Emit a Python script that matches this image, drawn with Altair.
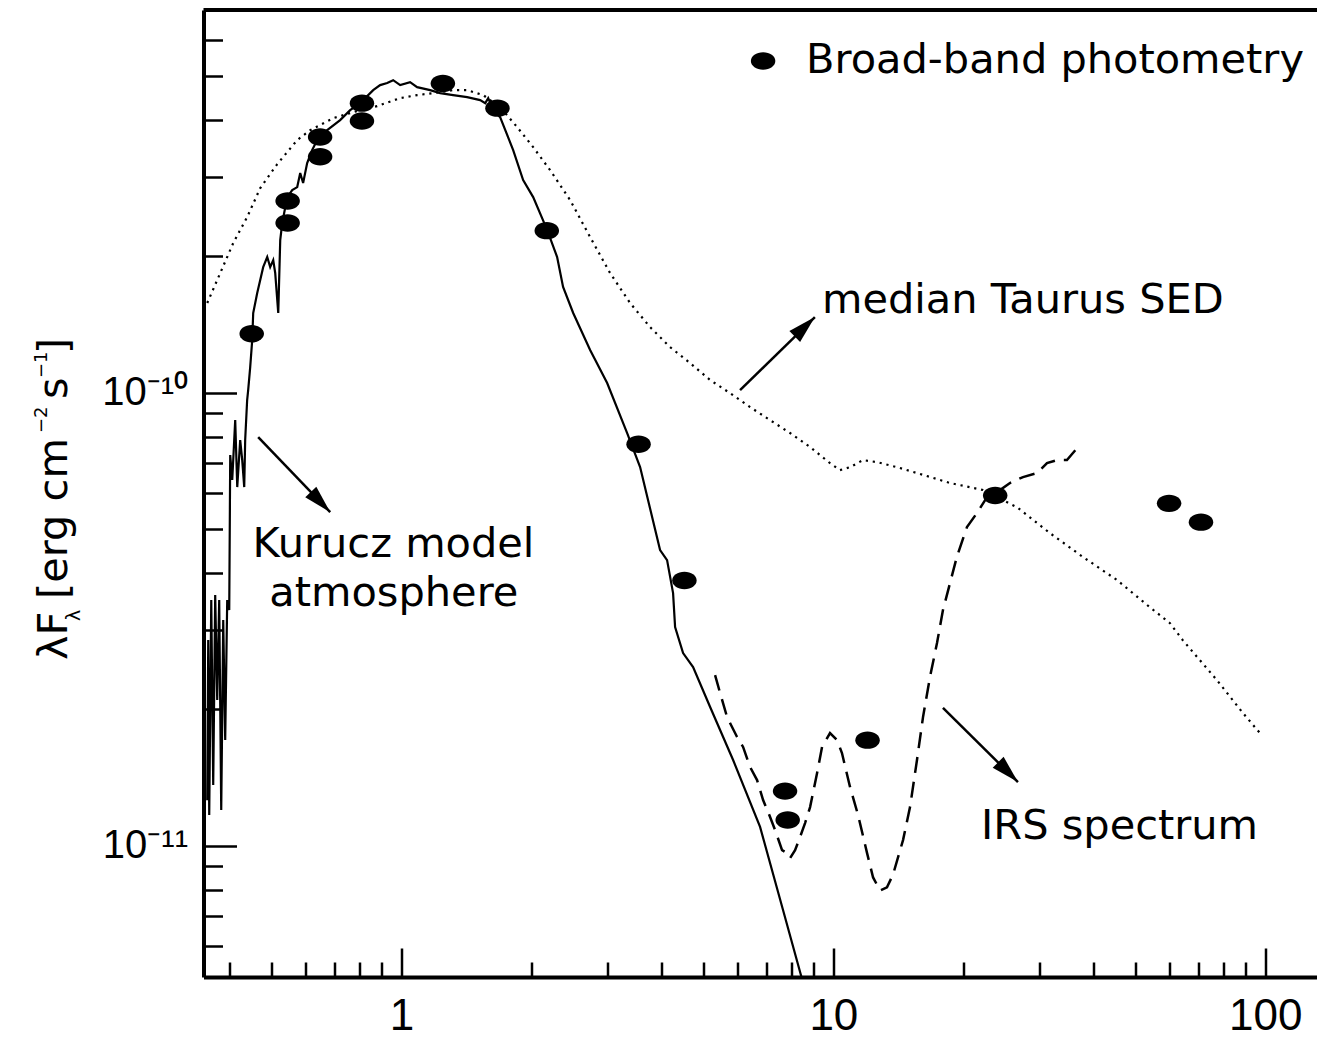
import altair as alt
import pandas as pd

# ---------------- data ----------------
# broad-band photometry: wavelength [micron], lambda*F_lambda [erg cm^-2 s^-1]
phot_wl = [0.45, 0.545, 0.545, 0.648, 0.648, 0.81, 0.81, 1.247, 1.668, 2.17,
           3.54, 4.52, 7.73, 7.84, 12.0, 23.7, 59.9, 71.0]
phot_flux = [1.35e-10, 2.65e-10, 2.37e-10, 3.67e-10, 3.32e-10, 4.36e-10, 3.98e-10,
             4.82e-10, 4.25e-10, 2.28e-10, 7.70e-11, 3.85e-11, 1.32e-11, 1.14e-11,
             1.71e-11, 5.93e-11, 5.70e-11, 5.18e-11]

# Kurucz model atmosphere (solid)
kurucz_wl = [0.3550, 0.3569, 0.3588, 0.3627, 0.3665, 0.3704, 0.3744, 0.3784, 0.3825,
             0.3866, 0.3907, 0.3949, 0.3992, 0.4013, 0.4056, 0.4121, 0.4166, 0.4232,
             0.4278, 0.4324, 0.4346, 0.4392, 0.4416, 0.4464, 0.4512, 0.4536, 0.4634,
             0.4709, 0.4784, 0.4888, 0.4966, 0.5047, 0.5101, 0.5184, 0.5239, 0.5295,
             0.5439, 0.5585, 0.5736, 0.5828, 0.5919, 0.6048, 0.6213, 0.6381, 0.6730,
             0.7211, 0.7606, 0.8023, 0.8600, 0.8925, 0.9266, 0.9567, 0.9931, 1.047,
             1.087, 1.165, 1.229, 1.317, 1.419, 1.521, 1.563, 1.588, 1.631, 1.692,
             1.814, 1.913, 2.018, 2.175, 2.293, 2.367, 2.498, 2.734, 2.994, 3.331,
             3.569, 3.970, 4.121, 4.255, 4.301, 4.488, 4.734, 5.184, 5.860, 6.766,
             7.647, 8.600]
kurucz_flux = [1.260e-11, 2.844e-11, 1.169e-11, 3.486e-11, 1.361e-11, 3.577e-11, 2.097e-11,
               3.486e-11, 1.199e-11, 3.149e-11, 1.711e-11, 3.486e-11, 3.313e-11, 7.287e-11,
               6.418e-11, 8.703e-11, 6.192e-11, 7.865e-11, 7.103e-11, 6.192e-11, 7.865e-11,
               9.636e-11, 1.014e-10, 1.139e-10, 1.307e-10, 1.500e-10, 1.660e-10, 1.774e-10,
               1.894e-10, 1.994e-10, 1.894e-10, 1.963e-10, 1.837e-10, 1.500e-10, 2.174e-10,
               2.370e-10, 2.704e-10, 2.803e-10, 2.845e-10, 3.055e-10, 2.904e-10, 3.214e-10,
               3.435e-10, 3.614e-10, 3.802e-10, 3.999e-10, 4.207e-10, 4.360e-10, 4.658e-10,
               4.778e-10, 4.828e-10, 4.900e-10, 4.778e-10, 4.851e-10, 4.730e-10, 4.658e-10,
               4.587e-10, 4.541e-10, 4.495e-10, 4.427e-10, 4.360e-10, 4.473e-10, 4.207e-10,
               4.061e-10, 3.435e-10, 2.948e-10, 2.704e-10, 2.287e-10, 1.994e-10, 1.712e-10,
               1.500e-10, 1.243e-10, 1.051e-10, 8.148e-11, 6.855e-11, 4.495e-11, 4.272e-11,
               3.612e-11, 3.039e-11, 2.663e-11, 2.480e-11, 2.024e-11, 1.546e-11, 1.100e-11,
               7.21e-12, 4.80e-12]

# median Taurus SED (dotted)
median_wl = [0.3550, 0.3804, 0.4078, 0.4392, 0.4709, 0.5156, 0.5736, 0.6146, 0.6946,
             0.8023, 0.8784, 0.9931, 1.087, 1.184, 1.317, 1.419, 1.546, 1.692, 1.853,
             2.018, 2.209, 2.458, 2.734, 3.042, 3.384, 3.764, 4.188, 4.659, 5.184,
             5.767, 6.415, 7.137, 7.940, 8.834, 9.826, 10.36, 10.93, 11.71, 12.62,
             14.04, 15.62, 18.63, 22.21, 23.42, 26.62, 31.73, 37.84, 45.37, 54.09,
             60.18, 64.49, 77.31, 88.80, 97.21]
median_flux = [1.578e-10, 1.837e-10, 2.141e-10, 2.443e-10, 2.830e-10, 3.198e-10, 3.614e-10,
               3.800e-10, 4.038e-10, 4.207e-10, 4.295e-10, 4.473e-10, 4.541e-10, 4.587e-10,
               4.658e-10, 4.658e-10, 4.541e-10, 4.273e-10, 3.860e-10, 3.486e-10, 3.101e-10,
               2.663e-10, 2.207e-10, 1.837e-10, 1.578e-10, 1.396e-10, 1.261e-10, 1.163e-10,
               1.067e-10, 9.98e-11, 9.30e-11, 8.70e-11, 8.15e-11, 7.59e-11, 6.99e-11,
               6.75e-11, 6.85e-11, 7.10e-11, 7.03e-11, 6.85e-11, 6.65e-11, 6.32e-11,
               6.10e-11, 5.94e-11, 5.59e-11, 4.90e-11, 4.34e-11, 3.86e-11, 3.36e-11,
               3.10e-11, 2.84e-11, 2.32e-11, 1.963e-11, 1.773e-11]

# IRS spectrum (dashed)
irs_wl = [5.323, 5.467, 5.675, 5.985, 6.180, 6.415, 6.659, 6.876, 7.137, 7.329, 7.608,
          7.813, 7.940, 8.154, 8.374, 8.600, 8.834, 9.170, 9.415, 9.824, 10.20, 10.47,
          10.93, 11.41, 11.97, 12.36, 12.83, 13.31, 13.75, 14.50, 15.05, 15.62, 16.13,
          16.74, 17.38, 17.94, 18.63, 19.33, 20.39, 21.50, 22.69, 24.31, 25.64, 27.49,
          29.61, 31.24, 32.95, 34.75, 36.85]
irs_flux = [2.381e-11, 2.174e-11, 1.923e-11, 1.738e-11, 1.652e-11, 1.492e-11, 1.396e-11,
            1.261e-11, 1.157e-11, 1.083e-11, 9.78e-12, 9.63e-12, 9.39e-12, 9.78e-12,
            1.045e-11, 1.122e-11, 1.217e-11, 1.447e-11, 1.652e-11, 1.773e-11, 1.711e-11,
            1.602e-11, 1.348e-11, 1.168e-11, 9.63e-12, 8.51e-12, 7.96e-12, 8.09e-12,
            8.64e-12, 1.029e-11, 1.217e-11, 1.546e-11, 1.923e-11, 2.357e-11, 2.802e-11,
            3.313e-11, 3.802e-11, 4.35e-11, 5.052e-11, 5.424e-11, 5.884e-11, 6.098e-11,
            6.320e-11, 6.515e-11, 6.648e-11, 6.995e-11, 7.103e-11, 7.103e-11, 7.588e-11]

# axis ticks
x_major = [1, 10, 100]
x_ticks = [0.4, 0.5, 0.6, 0.7, 0.8, 0.9, 1, 2, 3, 4, 5, 6, 7, 8, 9, 10,
           20, 30, 40, 50, 60, 70, 80, 90, 100]
y_major = [1e-11, 1e-10]
y_ticks = [6e-12, 7e-12, 8e-12, 9e-12, 1e-11, 2e-11, 3e-11, 4e-11, 5e-11, 6e-11, 7e-11,
           8e-11, 9e-11, 1e-10, 2e-10, 3e-10, 4e-10, 5e-10, 6e-10]

# annotations (anchored in data coordinates)
left_text = ["median Taurus SED", "IRS spectrum", "Broad-band photometry"]
left_text_x = [9.415, 21.98, 8.646]
left_text_y = [1.500e-10, 1.037e-11, 5.08e-10]
center_text = ["Kurucz model", "atmosphere"]
center_text_x = [0.958, 0.960]
center_text_y = [4.337e-11, 3.381e-11]
arrow_x0 = [0.4658, 6.081, 17.94]
arrow_y0 = [7.984e-11, 1.014e-10, 2.014e-11]
arrow_x1 = [0.6839, 9.063, 26.76]
arrow_y1 = [5.45e-11, 1.469e-10, 1.382e-11]
arrow_angle = [136, 46, 135]
legend_x = [6.876]
legend_y = [5.40e-10]

# ---------------- layout / style ----------------
FONT = "Liberation Sans"
TFONT = "DejaVu Sans"
TSIZE = 41.5
W, H = 1113.5, 967
ELLIPSE = "M-1,0A1,0.71,0,1,1,1,0A1,0.71,0,1,1,-1,0Z"
HEAD = "M0,0L0.55,2L-0.55,2Z"

xs = alt.Scale(type="log", domain=[0.348, 131.8], nice=False)
ys = alt.Scale(type="log", domain=[5.13e-12, 7.0e-10], nice=False)

x_axis_labels = alt.Axis(
    orient="bottom", values=x_major, format="~g", ticks=False, tickSize=0, grid=False,
    domain=True, domainColor="black", domainWidth=4, labelFont=FONT, labelFontSize=44,
    labelColor="black", labelBaseline="alphabetic", labelPadding=52, labelFlush=False,
    labelOverlap=False, title=None)
x_axis_ticks = alt.Axis(
    orient="top", offset=-H, values=x_ticks, labels=False, domain=False, grid=False,
    ticks=True, tickColor="black", tickWidth=2.5,
    tickSize={"condition": {"test": "datum.value == 1 || datum.value == 10 || datum.value == 100",
                            "value": 29}, "value": 15},
    title=None)
y_axis_labels = alt.Axis(
    orient="left", values=y_major,
    labelExpr="datum.value < 5e-11 ? '10\u207b\u00b9\u00b9' : '10\u207b\u00b9\u2070'",
    ticks=False, tickSize=0, grid=False, domain=True, domainColor="black", domainWidth=4,
    labelFont=FONT, labelFontSize=40, labelColor="black", labelPadding=16,
    labelOverlap=False, title=None)
y_axis_ticks = alt.Axis(
    orient="right", offset=-W, values=y_ticks, labels=False, domain=False, grid=False,
    ticks=True, tickColor="black", tickWidth=2.5,
    tickSize={"condition": {"test": "datum.value == 1e-11 || datum.value == 1e-10",
                            "value": 33}, "value": 19},
    title=None)

kur = pd.DataFrame({"wl": kurucz_wl, "flux": kurucz_flux, "i": range(len(kurucz_wl))})
med = pd.DataFrame({"wl": median_wl, "flux": median_flux, "i": range(len(median_wl))})
irs = pd.DataFrame({"wl": irs_wl, "flux": irs_flux, "i": range(len(irs_wl))})
phot = pd.DataFrame({"wl": phot_wl, "flux": phot_flux})
arr = pd.DataFrame({"x0": arrow_x0, "y0": arrow_y0, "x1": arrow_x1, "y1": arrow_y1,
                    "ang": arrow_angle})
ltxt = pd.DataFrame({"t": left_text, "x": left_text_x, "y": left_text_y})
ctxt = pd.DataFrame({"t": center_text, "x": center_text_x, "y": center_text_y})
leg = pd.DataFrame({"x": legend_x, "y": legend_y})


def X(field, axis=None):
    return alt.X(field, type="quantitative", scale=xs, axis=axis)


def Y(field, axis=None):
    return alt.Y(field, type="quantitative", scale=ys, axis=axis)


kurucz_layer = alt.Chart(kur).mark_line(color="black", strokeWidth=2.2, clip=True).encode(
    x=X("wl", x_axis_labels), y=Y("flux", y_axis_labels), order="i:Q")
median_layer = alt.Chart(med).mark_line(
    color="black", strokeWidth=2.2, strokeDash=[2.2, 4.8]).encode(
    x=X("wl", x_axis_ticks), y=Y("flux", y_axis_ticks), order="i:Q")
irs_layer = alt.Chart(irs).mark_line(
    color="black", strokeWidth=2.5, strokeDash=[16, 9]).encode(
    x=X("wl"), y=Y("flux"), order="i:Q")
phot_layer = alt.Chart(phot).mark_point(
    shape=ELLIPSE, size=600, filled=True, color="black", opacity=1, strokeWidth=0).encode(
    x=X("wl"), y=Y("flux"))
arrow_lines = alt.Chart(arr).mark_rule(color="black", strokeWidth=2.5).encode(
    x=X("x0"), y=Y("y0"), x2="x1:Q", y2="y1:Q")
arrow_heads = alt.Chart(arr).mark_point(
    shape=HEAD, size=784, filled=True, color="black", opacity=1, strokeWidth=0).encode(
    x=X("x1"), y=Y("y1"), angle=alt.Angle("ang:Q", scale=None))
text_left = alt.Chart(ltxt).mark_text(
    align="left", baseline="alphabetic", font=TFONT, fontSize=TSIZE, color="black").encode(
    x=X("x"), y=Y("y"), text="t:N")
text_center = alt.Chart(ctxt).mark_text(
    align="center", baseline="alphabetic", font=TFONT, fontSize=TSIZE, color="black").encode(
    x=X("x"), y=Y("y"), text="t:N")
legend_dot = alt.Chart(leg).mark_point(
    shape=ELLIPSE, size=600, filled=True, color="black", opacity=1, strokeWidth=0).encode(
    x=X("x"), y=Y("y"))
one = pd.DataFrame({"a": [0]})
frame_top = alt.Chart(one).mark_rule(color="black", strokeWidth=4).encode(
    x=alt.value(0), x2=alt.value(W), y=alt.value(0))

# y-axis title built from pieces (subscript lambda, superscript exponents)
title_pieces = [
    ("\u03bbF", -136.5, 650, TSIZE),
    ("\u03bb", -123.5, 611, 19),
    ("[erg cm", -136.5, 589, TSIZE),
    ("\u22122", -156.5, 423, 18),
    ("s", -136.5, 389, TSIZE),
    ("\u22121", -156.5, 368, 18),
    ("]", -136.5, 344, TSIZE),
]
title_layers = [
    alt.Chart(one).mark_text(text=t, angle=270, align="left", baseline="alphabetic",
                             font=TFONT, fontSize=fs, color="black").encode(
        x=alt.value(px), y=alt.value(py))
    for t, px, py, fs in title_pieces
]

chart = alt.layer(
    median_layer, kurucz_layer, irs_layer, phot_layer, arrow_lines, arrow_heads,
    text_left, text_center, legend_dot, frame_top, *title_layers
).resolve_axis(x="independent", y="independent").properties(
    width=W, height=H,
    autosize=alt.AutoSizeParams(type="none"),
    padding={"left": 195.5, "top": 2, "right": 0, "bottom": 62},
    background="white",
).configure_view(stroke=None)

chart.save("out.html", embed_options={"renderer": "svg", "actions": False})
